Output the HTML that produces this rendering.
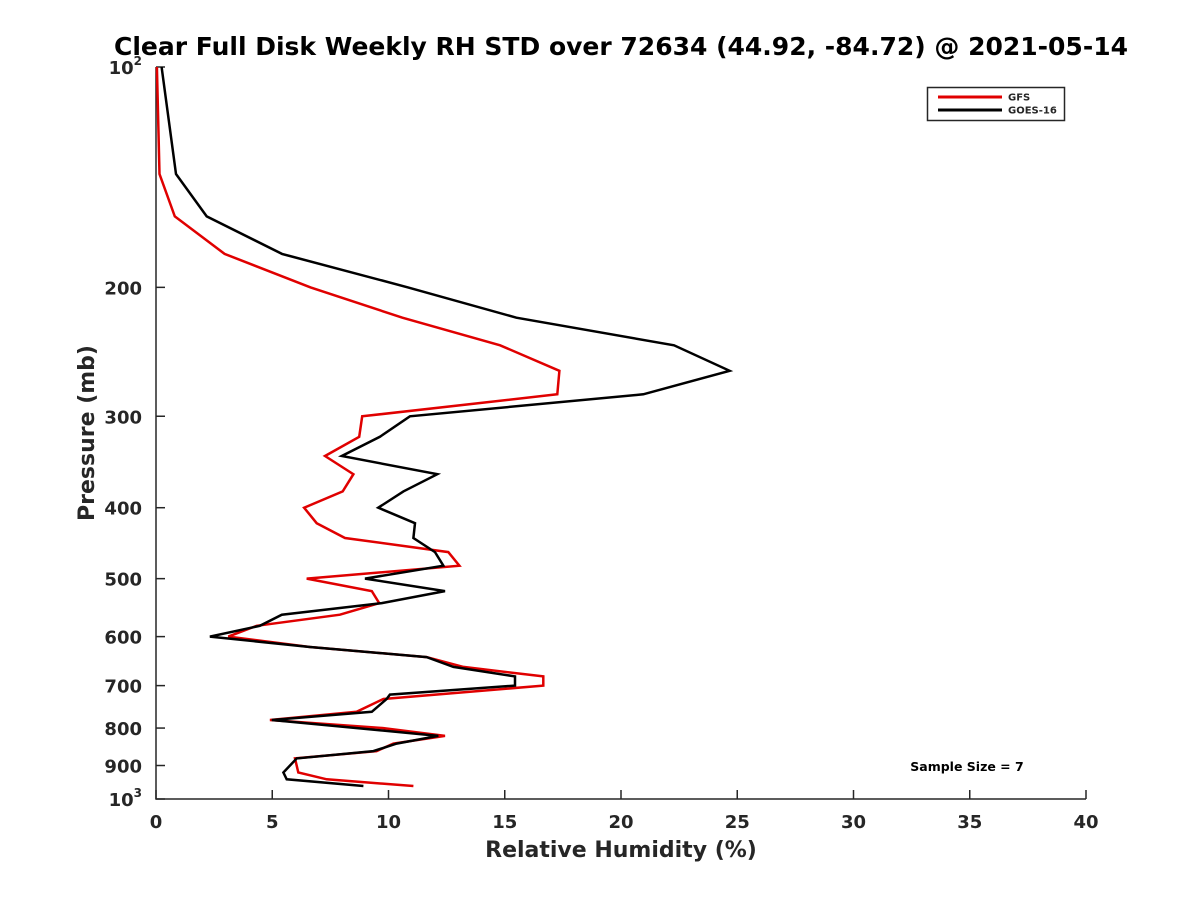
<!DOCTYPE html>
<html><head><meta charset="utf-8"><style>
body{margin:0;background:#fff}
svg text{font-family:"DejaVu Sans","Liberation Sans",sans-serif;font-weight:bold;fill:#262626}
</style></head><body>
<svg id="chart" width="1200" height="900" xmlns="http://www.w3.org/2000/svg">
<rect width="1200" height="900" fill="#fff"/>
<text x="621" y="55" font-size="25" text-anchor="middle" style="fill:#000">Clear Full Disk Weekly RH STD over 72634 (44.92, -84.72) @ 2021-05-14</text>
<g id="axes"></g>
<g id="series"></g>
<text x="621" y="857" font-size="22" text-anchor="middle">Relative Humidity (%)</text>
<text transform="translate(94,433) rotate(-90)" font-size="22" text-anchor="middle">Pressure (mb)</text>
<g>
<rect x="927.5" y="87.5" width="137" height="33" fill="#fff" stroke="#262626" stroke-width="1.5"/>
<line x1="938" y1="97" x2="1002" y2="97" stroke="#e00000" stroke-width="3"/>
<text x="1008" y="100.5" font-size="10">GFS</text>
<line x1="938" y1="110" x2="1002" y2="110" stroke="#000" stroke-width="3"/>
<text x="1008" y="113.5" font-size="10">GOES-16</text>
</g>
<text x="967" y="771" font-size="12.5" text-anchor="middle" style="fill:#000">Sample Size = 7</text>
</svg>
<script>
const xTicks=[0,5,10,15,20,25,30,35,40];
const yTicks=[100,200,300,400,500,600,700,800,900,1000];
const gfsP=[100,140,160,180,200,220,240,260,280,300,320,340,360,380,400,420,440,460,480,500,520,540,560,580,600,620,640,660,680,700,730,760,780,800,820,840,860,880,920,940,960];
const gfsRH=[0.04,0.15,0.81,2.95,6.65,10.6,14.8,17.35,17.26,8.87,8.74,7.27,8.49,8.03,6.37,6.91,8.13,12.57,13.05,6.48,9.28,9.6,7.91,4.33,3.11,6.62,11.64,13.22,16.66,16.66,9.78,8.63,4.9,9.78,12.43,10.21,9.49,5.98,6.12,7.34,11.07];
const goesP=[100,140,160,180,200,220,240,260,280,300,320,340,360,380,400,420,440,460,480,500,520,540,560,580,600,620,640,660,680,700,720,730,760,780,820,840,860,880,920,940,960];
const goesRH=[0.24,0.86,2.18,5.42,10.84,15.5,22.28,24.67,20.96,10.92,9.63,7.99,12.1,10.64,9.56,11.14,11.07,12.0,12.36,8.99,12.43,9.71,5.41,4.47,2.32,6.62,11.64,12.79,15.44,15.44,10.06,9.92,9.28,4.98,12.14,10.35,9.35,6.05,5.48,5.62,8.92];
const L=156,R=1086,T=67,B=799;
const xs=v=>L+(R-L)*v/40;
const ys=p=>T+(B-T)*Math.log10(p/100);
const NS="http://www.w3.org/2000/svg";
const axes=document.getElementById('axes');
function mk(tag,attrs,parent){const e=document.createElementNS(NS,tag);for(const k in attrs)e.setAttribute(k,attrs[k]);parent.appendChild(e);return e;}
const ax=mk('path',{d:`M${L},${T}V${B}H${R}`,fill:'none',stroke:'#262626','stroke-width':1.5},axes);


xTicks.forEach(v=>{
 const x=xs(v);
 const t=mk('line',{x1:x,y1:B,x2:x,y2:B-9,stroke:'#262626','stroke-width':1.5},axes);
 
 
 const lb=mk('text',{x:x,y:B+29,'font-size':18,'text-anchor':'middle'},axes);
 lb.textContent=v;
 
 
});
yTicks.forEach(p=>{
 const y=ys(p);
 const t=mk('line',{x1:L,y1:y,x2:L+9,y2:y,stroke:'#262626','stroke-width':1.5},axes);
 
 
 const lb=mk('text',{x:L-14,y:y+7,'font-size':18,'text-anchor':'end'},axes);
 if(p===100||p===1000){
  lb.textContent='10';
  const s=mk('tspan',{dy:-9,'font-size':12},lb);s.textContent=p===100?'2':'3';
 } else lb.textContent=p;
 
 
});
const ser=document.getElementById('series');
function line(P,V,color,name){
 const d=P.map((p,i)=>(i?'L':'M')+xs(V[i]).toFixed(1)+','+ys(p).toFixed(1)).join('');
 const e=mk('path',{d:d,fill:'none',stroke:color,'stroke-width':2.5,'stroke-linejoin':'miter'},ser);
 
 
}
line(gfsP,gfsRH,'#e00000','gfs-line');
line(goesP,goesRH,'#000000','goes16-line');
</script>
</body></html>
